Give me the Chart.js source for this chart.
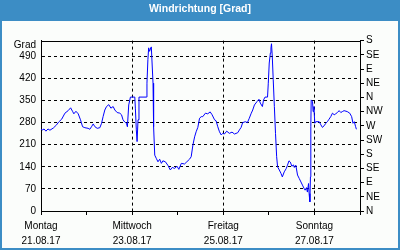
<!DOCTYPE html>
<html>
<head>
<meta charset="utf-8">
<script src="https://cdn.jsdelivr.net/npm/chart.js@4"></script>
<style>
  html, body { margin: 0; padding: 0; background: #fff; }
</style>
</head>
<body>
<canvas id="chart" width="400" height="250"></canvas>
<script>
// hours since Monday 21.08.17 00:00 and wind direction in degrees
const hours = [
  0, 0.9, 1.6, 2.6, 3.7, 4.7, 6.5, 8.2, 9.3, 10.9, 12.6, 14.3, 15.6, 16.6, 17.3, 18.4, 19.6, 20.8, 21.9, 23.1,
  24.8, 25.7, 26.6, 27.5, 28.4, 29.6, 31.0, 31.9, 32.7, 33.6, 34.5, 35.7, 36.8, 38.0, 38.9, 40.1, 41.5, 42.4, 43.2, 44.1,
  45.0, 45.5, 46.2, 47.1, 49.4, 49.7, 50.2, 50.6, 51.1, 51.6, 55.5, 55.8, 56.3, 56.7, 57.2, 57.8, 58.1, 59.0, 59.3, 59.9,
  60.7, 61.6, 62.5, 63.4, 64.2, 65.5, 66.8, 68.1, 69.1, 70.4, 71.6, 72.6, 73.9, 75.6, 76.8, 78.2, 79.1, 80.0, 80.9, 81.7,
  82.6, 83.5, 84.4, 85.2, 86.6, 87.8, 89.1, 90.1, 91.4, 92.2, 93.1, 94.0, 94.9, 95.7, 96.6, 97.8, 99.2, 100.6, 101.9, 103.6,
  104.5, 105.4, 106.2, 107.6, 108.7, 109.7, 110.6, 111.5, 112.4, 113.8, 114.8, 115.5, 116.6, 117.2, 118.0, 119.3, 119.7, 120.2, 120.8, 121.1,
  121.4, 121.8, 122.3, 122.9, 123.5, 124.1, 124.6, 125.5, 126.4, 127.1, 128.1, 129.2, 129.8, 130.6, 131.3, 132.1, 133.0, 133.4, 134.2, 135.1,
  136.0, 136.9, 137.7, 138.6, 139.1, 139.8, 140.3, 140.9, 141.2, 141.6, 141.9, 142.1, 142.3, 143.0, 143.3, 143.7, 144.2, 144.7, 146.5, 147.4,
  148.2, 149.1, 150.0, 150.8, 151.7, 152.6, 153.5, 154.4, 155.2, 156.1, 157.0, 157.9, 158.7, 159.6, 161.3, 162.6, 163.6, 164.3, 165.0, 165.7,
  166.1
];
const degrees = [
  259, 257, 260, 253, 260, 256, 263, 273, 282, 291, 310, 318, 327, 316, 308, 316, 308, 289, 267, 264,
  262, 259, 267, 276, 267, 262, 264, 278, 299, 320, 331, 337, 326, 331, 320, 312, 310, 305, 289, 282,
  278, 267, 336, 361, 361, 326, 257, 220, 289, 361, 361, 405, 480, 517, 506, 517, 520, 405, 267, 177,
  167, 156, 164, 151, 159, 156, 145, 130, 138, 135, 142, 132, 151, 149, 156, 164, 172, 209, 235, 251,
  265, 294, 299, 299, 310, 308, 314, 305, 289, 286, 267, 251, 241, 246, 244, 253, 246, 250, 244, 248,
  257, 265, 280, 283, 280, 294, 308, 320, 336, 347, 354, 342, 331, 352, 361, 361, 405, 469, 501, 517,
  530, 490, 416, 331, 246, 172, 140, 130, 119, 108, 124, 135, 145, 159, 155, 142, 146, 138, 145, 114,
  103, 92, 82, 71, 66, 74, 60, 87, 55, 29, 108, 267, 352, 347, 315, 331, 278, 283, 283, 273,
  265, 270, 278, 283, 291, 299, 310, 305, 308, 312, 318, 312, 315, 318, 315, 310, 299, 278, 283, 267,
  259
];

const dayNames = ['Montag', '', 'Mittwoch', '', 'Freitag', '', 'Sonntag', ''];
const dayDates = ['21.08.17', '', '23.08.17', '', '25.08.17', '', '27.08.17', ''];
const compass = ['N', 'NE', 'E', 'SE', 'S', 'SW', 'W', 'NW', 'N', 'NE', 'E', 'SE', 'S'];

Chart.defaults.font.family = '"Liberation Sans", Arial, sans-serif';
Chart.defaults.font.size = 10;
Chart.defaults.color = '#000';

// blue frame + title bar, top border of the plot and the unit label
const frame = {
  id: 'frame',
  beforeDraw(chart) {
    const ctx = chart.ctx;
    ctx.save();
    ctx.fillStyle = '#3c8dc5';
    ctx.fillRect(0, 0, chart.width, chart.height);
    ctx.fillStyle = '#fbfdfb';
    ctx.fillRect(2, 21, chart.width - 4, chart.height - 23);
    ctx.restore();
  },
  afterDraw(chart) {
    const ctx = chart.ctx;
    const a = chart.chartArea;
    ctx.save();
    ctx.strokeStyle = '#000';
    ctx.lineWidth = 1;
    ctx.beginPath();
    ctx.moveTo(a.left, Math.round(a.top) + 0.5);
    ctx.lineTo(a.right, Math.round(a.top) + 0.5);
    ctx.stroke();
    ctx.fillStyle = '#000';
    ctx.font = '10px "Liberation Sans", Arial, sans-serif';
    ctx.textAlign = 'right';
    ctx.textBaseline = 'middle';
    ctx.fillText('Grad', 36, 45);
    ctx.restore();
  }
};

new Chart(document.getElementById('chart'), {
  type: 'line',
  data: {
    datasets: [{
      data: hours.map((h, i) => ({ x: h, y: degrees[i] })),
      borderColor: '#0000ff',
      borderWidth: 1,
      pointRadius: 0,
      tension: 0,
      yAxisID: 'y'
    }]
  },
  options: {
    responsive: false,
    animation: false,
    layout: { padding: 0 },
    plugins: {
      legend: { display: false },
      tooltip: { enabled: false },
      title: {
        display: true,
        text: 'Windrichtung [Grad]',
        color: '#fff',
        font: { size: 10.5, weight: 'bold' },
        padding: { top: 3, bottom: 25 }
      }
    },
    scales: {
      x: {
        type: 'linear',
        min: 0,
        max: 168,
        afterFit(s) { s.height = 39; },
        ticks: {
          stepSize: 24,
          autoSkip: false,
          maxRotation: 0,
          padding: 3,
          font: { lineHeight: 1.55 },
          callback: (v) => {
            const d = Math.round(v / 24);
            return dayNames[d] ? [dayNames[d], dayDates[d]] : '';
          }
        },
        grid: {
          color: (c) => (c.tick && c.tick.value % 48 === 0 && c.tick.value > 0 && c.tick.value < 168) ? '#000' : 'rgba(0,0,0,0)',
          tickColor: '#000',
          tickLength: 4
        },
        border: { color: '#000', dash: [3, 3] }
      },
      y: {
        position: 'left',
        min: 0,
        max: 540,
        afterFit(s) { s.width = 41; },
        ticks: { stepSize: 70, includeBounds: false, padding: 5 },
        grid: {
          color: (c) => (c.tick && c.tick.value > 0) ? '#000' : 'rgba(0,0,0,0)',
          drawTicks: false
        },
        border: { color: '#000', dash: [3, 3] }
      },
      y2: {
        position: 'right',
        min: 0,
        max: 540,
        afterFit(s) { s.width = 40; },
        ticks: {
          stepSize: 45,
          autoSkip: false,
          padding: 2,
          callback: (v) => compass[Math.round(v / 45)]
        },
        grid: { drawOnChartArea: false, tickLength: 4, color: '#000' },
        border: { color: '#000' }
      }
    }
  },
  plugins: [frame]
});
</script>
</body>
</html>
